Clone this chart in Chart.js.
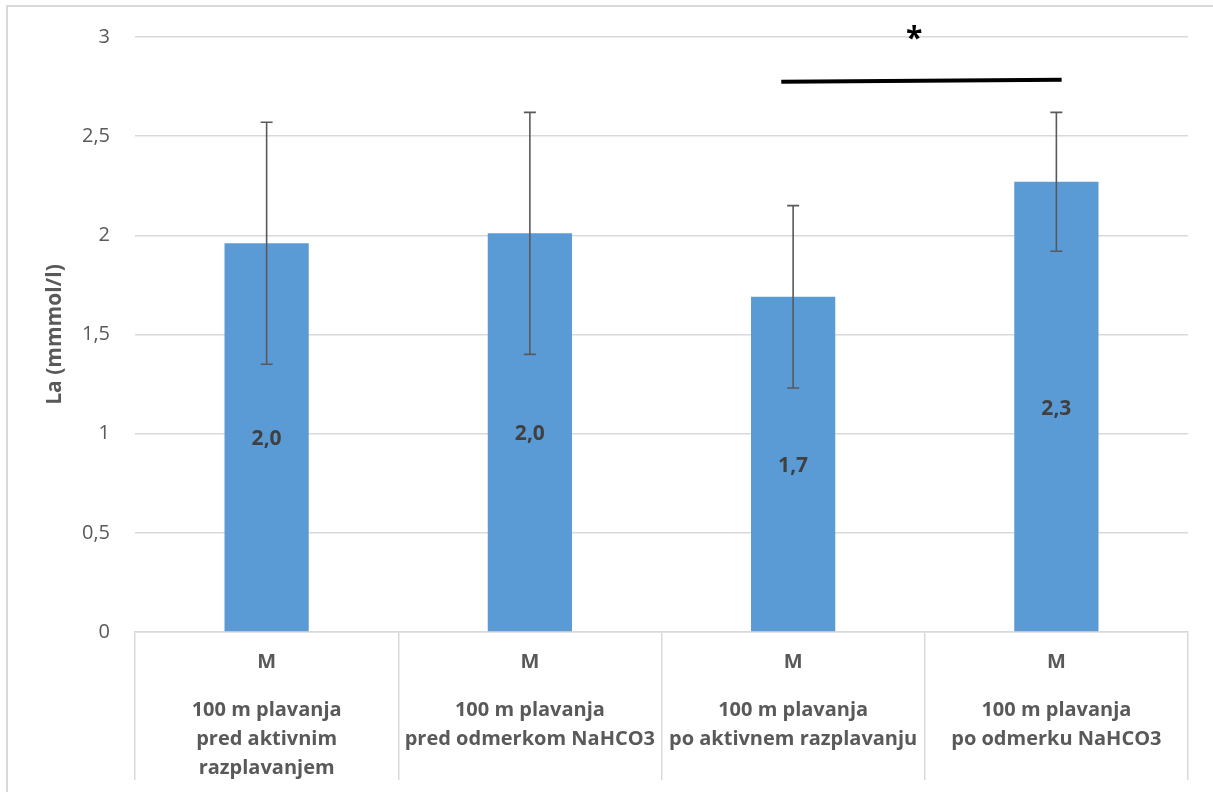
<!DOCTYPE html>
<html>
<head>
<meta charset="utf-8">
<style>
  html, body { margin: 0; padding: 0; background: #fff; overflow: hidden; }
  #frame { position: absolute; left: 6px; top: 5px; width: 1400px; height: 1000px;
    border-left: 2px solid #d9d9d9; border-top: 2px solid #d9d9d9; }
  #wrap { position: absolute; left: 0; top: 0; width: 1213px; height: 792px; }
</style>
<script src="https://cdn.jsdelivr.net/npm/chart.js@4.4.0/dist/chart.umd.min.js"></script>
</head>
<body>
<div id="frame"></div>
<div id="wrap"><canvas id="chart"></canvas></div>
<script>
// values
const groupLabels = [
  ['100 m plavanja', 'pred aktivnim', 'razplavanjem'],
  ['100 m plavanja', 'pred odmerkom NaHCO3'],
  ['100 m plavanja', 'po aktivnem razplavanju'],
  ['100 m plavanja', 'po odmerku NaHCO3']
];
const seriesLabels = ['M', 'M', 'M', 'M'];
const means = [1.96, 2.01, 1.69, 2.27];
const sds = [0.61, 0.61, 0.46, 0.35];
const valueLabels = ['2,0', '2,0', '1,7', '2,3'];
const yTicks = [0, 0.5, 1, 1.5, 2, 2.5, 3];
// significance bar between groups 3 and 4 (category units / value units)
const sigFrom = 1.955, sigTo = 3.02, sigLevel = 2.78;
const sigMark = '*', sigMarkAt = 2.46, sigMarkLevel = 3.02;

const FONT = "'Open Sans', 'Liberation Sans', sans-serif";

const extras = {
  id: 'extras',
  afterDatasetsDraw(chart) {
    const ctx = chart.ctx;
    const x = chart.scales.x, y = chart.scales.y;
    const meta = chart.getDatasetMeta(0);
    ctx.save();
    // value labels in the middle of each bar
    ctx.font = "bold 21px " + FONT;
    ctx.fillStyle = '#404040';
    ctx.textAlign = 'center';
    ctx.textBaseline = 'middle';
    meta.data.forEach((bar, i) => {
      ctx.fillText(valueLabels[i], bar.x, (bar.y + bar.base) / 2 + 2);
    });
    // error bars
    ctx.strokeStyle = '#595959';
    ctx.lineWidth = 1.6;
    meta.data.forEach((bar, i) => {
      const top = y.getPixelForValue(means[i] + sds[i]);
      const bot = y.getPixelForValue(means[i] - sds[i]);
      ctx.beginPath();
      ctx.moveTo(bar.x, top); ctx.lineTo(bar.x, bot);
      ctx.moveTo(bar.x - 6, top); ctx.lineTo(bar.x + 6, top);
      ctx.moveTo(bar.x - 6, bot); ctx.lineTo(bar.x + 6, bot);
      ctx.stroke();
    });
    // significance line and mark
    ctx.strokeStyle = '#000';
    ctx.lineWidth = 4;
    ctx.beginPath();
    ctx.moveTo(x.getPixelForValue(sigFrom), y.getPixelForValue(sigLevel) + 1);
    ctx.lineTo(x.getPixelForValue(sigTo), y.getPixelForValue(sigLevel) - 1);
    ctx.stroke();
    ctx.fillStyle = '#000';
    ctx.font = "bold 30px " + FONT;
    ctx.fillText(sigMark, x.getPixelForValue(sigMarkAt), y.getPixelForValue(sigMarkLevel) + 6);
    ctx.restore();
  }
};

new Chart(document.getElementById('chart'), {
  type: 'bar',
  data: {
    labels: seriesLabels,
    datasets: [{
      data: means,
      backgroundColor: '#5b9bd5',
      barPercentage: 0.32,
      categoryPercentage: 1
    }]
  },
  options: {
    responsive: true, maintainAspectRatio: false, animation: false,
    layout: { padding: { left: 20, top: 35, right: 25, bottom: 0 } },
    plugins: { legend: { display: false }, tooltip: { enabled: false } },
    scales: {
      y: {
        min: 0, max: 3,
        afterFit: s => { s.width = 115; },
        afterBuildTicks: s => { s.ticks = yTicks.map(v => ({ value: v })); },
        ticks: {
          padding: 25, color: '#595959', font: { family: FONT, size: 20 },
          callback: v => String(v).replace('.', ',')
        },
        grid: { color: '#d9d9d9', lineWidth: 1.5, drawTicks: false },
        border: { display: false },
        title: {
          display: true, text: 'La (mmmol/l)', color: '#595959',
          font: { family: FONT, size: 21, weight: 'bold' }, padding: { top: 22, bottom: 0 }
        }
      },
      x: {
        weight: 0,
        offset: true,
        afterFit: s => { s.height = 47; },
        grid: { offset: true, drawOnChartArea: false, color: '#d9d9d9', lineWidth: 1.5, tickLength: 47 },
        border: { color: '#d9d9d9', width: 1.5 },
        ticks: {
          padding: -29, maxRotation: 0, autoSkip: false, color: '#595959',
          font: { family: FONT, size: 20, weight: 'bold' }
        }
      },
      x2: {
        type: 'category', position: 'bottom', weight: 1,
        labels: groupLabels,
        offset: true,
        afterFit: s => { s.height = 113; },
        grid: { offset: true, drawOnChartArea: false, color: '#d9d9d9', lineWidth: 1.5, tickLength: 101 },
        border: { display: false },
        ticks: {
          padding: -84, maxRotation: 0, autoSkip: false, color: '#595959',
          font: { family: FONT, size: 20, weight: 'bold', lineHeight: 29 / 20 }
        }
      }
    }
  },
  plugins: [extras]
});
</script>
</body>
</html>
